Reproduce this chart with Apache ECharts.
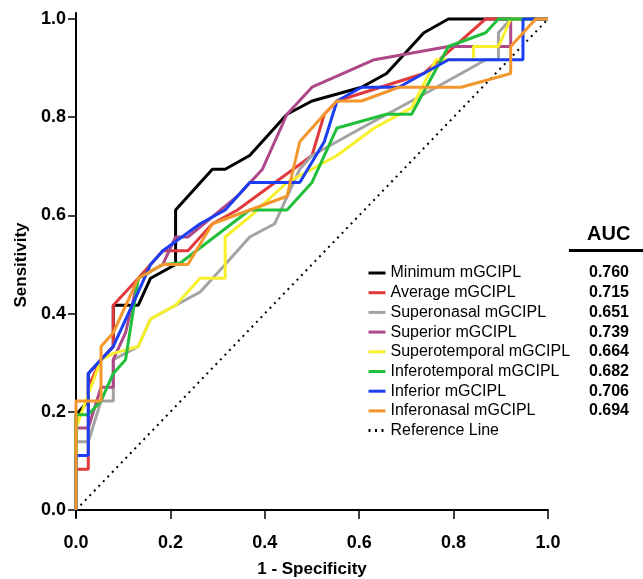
<!DOCTYPE html>
<html style="height: 100%">
<head>
    <meta charset="utf-8">
    <script src="https://cdn.jsdelivr.net/npm/echarts@6/dist/echarts.min.js"></script>
</head>
<body style="height: 100%; margin: 0; background: #fff">
    <div id="container" style="width: 643px; height: 579px"></div>
    <script type="text/javascript">
        // ROC points: [1 - specificity, sensitivity]
        var minimumPts = [[0,0],[0,0.194],[0.026,0.222],[0.026,0.278],[0.053,0.306],[0.079,0.333],[0.079,0.417],[0.132,0.417],[0.158,0.472],[0.211,0.5],[0.211,0.611],[0.289,0.694],[0.316,0.694],[0.368,0.722],[0.447,0.806],[0.5,0.833],[0.605,0.861],[0.658,0.889],[0.737,0.972],[0.789,1],[1,1]];
        var averagePts = [[0,0],[0,0.083],[0.026,0.083],[0.026,0.25],[0.053,0.306],[0.079,0.333],[0.079,0.417],[0.132,0.472],[0.184,0.528],[0.237,0.528],[0.289,0.583],[0.342,0.611],[0.5,0.722],[0.526,0.806],[0.553,0.833],[0.737,0.889],[0.868,1],[1,1]];
        var superonasalPts = [[0,0],[0,0.139],[0.026,0.139],[0.053,0.222],[0.079,0.222],[0.079,0.306],[0.132,0.333],[0.158,0.389],[0.211,0.417],[0.263,0.444],[0.316,0.5],[0.368,0.556],[0.421,0.583],[0.474,0.694],[0.5,0.722],[0.605,0.778],[0.711,0.833],[0.816,0.889],[0.868,0.917],[0.895,0.917],[0.895,0.972],[0.921,1],[1,1]];
        var superiorPts = [[0,0],[0,0.167],[0.026,0.167],[0.053,0.25],[0.079,0.25],[0.079,0.306],[0.105,0.361],[0.132,0.472],[0.184,0.5],[0.211,0.556],[0.237,0.556],[0.342,0.639],[0.395,0.694],[0.447,0.806],[0.5,0.861],[0.632,0.917],[0.789,0.944],[0.921,0.944],[0.921,1],[1,1]];
        var superotemporalPts = [[0,0],[0,0.167],[0.053,0.306],[0.079,0.319],[0.132,0.333],[0.158,0.389],[0.211,0.417],[0.263,0.472],[0.316,0.472],[0.316,0.556],[0.368,0.597],[0.447,0.667],[0.553,0.722],[0.632,0.778],[0.711,0.819],[0.763,0.917],[0.842,0.917],[0.842,0.944],[0.895,0.944],[0.921,1],[1,1]];
        var inferotemporalPts = [[0,0],[0,0.194],[0.026,0.194],[0.053,0.222],[0.079,0.278],[0.105,0.306],[0.132,0.472],[0.184,0.5],[0.221,0.503],[0.368,0.611],[0.447,0.611],[0.5,0.667],[0.553,0.778],[0.658,0.806],[0.711,0.806],[0.789,0.944],[0.868,0.972],[0.895,1],[1,1]];
        var inferiorPts = [[0,0],[0,0.111],[0.026,0.111],[0.026,0.278],[0.053,0.306],[0.079,0.333],[0.132,0.444],[0.158,0.5],[0.184,0.528],[0.263,0.583],[0.316,0.611],[0.368,0.667],[0.474,0.667],[0.526,0.75],[0.553,0.833],[0.605,0.861],[0.684,0.861],[0.789,0.917],[0.947,0.917],[0.947,1],[1,1]];
        var inferonasalPts = [[0,0],[0,0.222],[0.053,0.222],[0.053,0.333],[0.079,0.361],[0.132,0.472],[0.184,0.5],[0.237,0.5],[0.289,0.583],[0.368,0.611],[0.447,0.639],[0.474,0.75],[0.526,0.806],[0.553,0.833],[0.605,0.833],[0.684,0.861],[0.816,0.861],[0.921,0.889],[0.921,0.944],[0.974,1],[1,1]];
        var referencePts = [[0,0],[1,1]];

        var seriesNames = ['Minimum mGCIPL', 'Average mGCIPL', 'Superonasal mGCIPL', 'Superior mGCIPL',
            'Superotemporal mGCIPL', 'Inferotemporal mGCIPL', 'Inferior mGCIPL', 'Inferonasal mGCIPL'];
        var seriesData = [minimumPts, averagePts, superonasalPts, superiorPts,
            superotemporalPts, inferotemporalPts, inferiorPts, inferonasalPts];
        var seriesColors = ['#000000', '#e2393c', '#a3a3a3', '#ad4889', '#f7f02a', '#22bf3c', '#1c3ef2', '#f3962c'];
        var aucValues = ['0.760', '0.715', '0.651', '0.739', '0.664', '0.682', '0.706', '0.694'];
        var tickValues = [0, 0.2, 0.4, 0.6, 0.8, 1.0];

        var FONT = "'Liberation Sans', Arial, sans-serif";
        var myChart = echarts.init(document.getElementById('container'));

        var series = [];
        for (var i = 0; i < seriesNames.length; i++) {
            series.push({
                name: seriesNames[i],
                type: 'line',
                data: seriesData[i],
                symbol: 'none',
                color: seriesColors[i],
                lineStyle: { width: 3, color: seriesColors[i] }
            });
        }
        series.push({
            name: 'Reference Line',
            type: 'line',
            data: referencePts,
            symbol: 'none',
            color: '#000',
            z: 1,
            lineStyle: { width: 2, color: '#000', type: [2, 4.5] }
        });

        // AUC column on the right
        var ROW0 = 273, ROW_STEP = 19.7;
        var graphics = [
            { type: 'text', left: 587, top: 224, style: { text: 'AUC', font: 'bold 20px ' + FONT, fill: '#000' } },
            { type: 'rect', shape: { x: 569, y: 249, width: 74, height: 3 }, style: { fill: '#000' } }
        ];
        for (var k = 0; k < aucValues.length; k++) {
            graphics.push({
                type: 'text', x: 609, y: ROW0 + k * ROW_STEP,
                style: { text: aucValues[k], font: 'bold 16px ' + FONT, fill: '#000', align: 'center', verticalAlign: 'middle' }
            });
        }

        var option = {
            animation: false,
            backgroundColor: '#fff',
            grid: { left: 76, right: 95, top: 13, bottom: 62, outerBoundsMode: 'none' },
            legend: {
                orient: 'vertical',
                left: 362,
                top: ROW0 - 8 - 5,
                itemWidth: 17,
                itemHeight: 16,
                itemGap: ROW_STEP - 16,
                data: seriesNames.concat(['Reference Line']),
                itemStyle: { opacity: 0 },
                lineStyle: { width: 3 },
                textStyle: { fontFamily: FONT, fontSize: 16, color: '#000', lineHeight: 16 }
            },
            xAxis: {
                type: 'value',
                min: 0,
                max: 1,
                interval: 0.2,
                name: '1 - Specificity',
                nameLocation: 'middle',
                nameGap: 44,
                nameTextStyle: { fontFamily: FONT, fontSize: 17, fontWeight: 'bold', color: '#000' },
                splitLine: { show: false },
                axisLine: { lineStyle: { color: '#000', width: 2 } },
                axisTick: { length: 9, lineStyle: { color: '#000', width: 1.5 } },
                axisLabel: {
                    margin: 17, fontFamily: FONT, fontSize: 18, fontWeight: 'bold', color: '#000',
                    formatter: function (v) { return v.toFixed(1); }
                }
            },
            yAxis: {
                type: 'value',
                min: -0.0143,
                max: 1.0122,
                name: 'Sensitivity',
                nameLocation: 'middle',
                nameGap: 44,
                nameTextStyle: { fontFamily: FONT, fontSize: 17, fontWeight: 'bold', color: '#000' },
                splitLine: { show: false },
                axisLine: { lineStyle: { color: '#000', width: 2 } },
                axisTick: { length: 8, customValues: tickValues, lineStyle: { color: '#000', width: 1.5 } },
                axisLabel: {
                    margin: 10, customValues: tickValues, fontFamily: FONT, fontSize: 18, fontWeight: 'bold', color: '#000',
                    formatter: function (v) { return v.toFixed(1); }
                }
            },
            graphic: graphics,
            series: series
        };

        myChart.setOption(option);
    </script>
</body>
</html>
